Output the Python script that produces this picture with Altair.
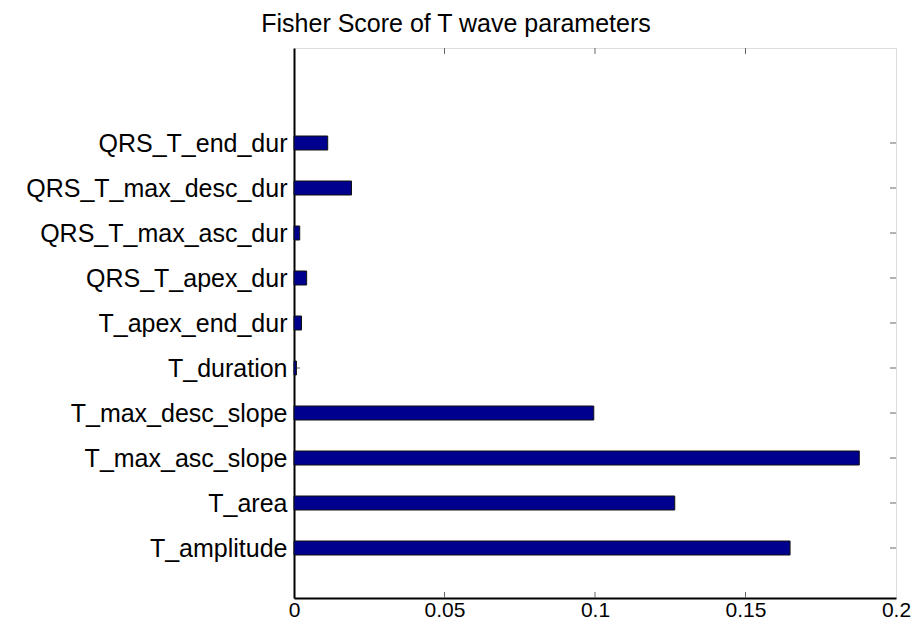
import altair as alt
import pandas as pd

features = ["T_amplitude", "T_area", "T_max_asc_slope", "T_max_desc_slope", "T_duration",
            "T_apex_end_dur", "QRS_T_apex_dur", "QRS_T_max_asc_dur", "QRS_T_max_desc_dur",
            "QRS_T_end_dur"]
scores = [0.1648, 0.1265, 0.1878, 0.0996, 0.0008, 0.0025, 0.0042, 0.0019, 0.0191, 0.0112]
x_ticks = [0, 0.05, 0.1, 0.15, 0.2]
TITLE = "Fisher Score of T wave parameters"

positions = list(range(1, len(features) + 1))
df = pd.DataFrame({"feature": features, "score": scores, "pos": positions})
inner_x = pd.DataFrame({"v": x_ticks[1:-1]})
pos_df = pd.DataFrame({"pos": positions})

W, H = 602, 550
FONT = "Liberation Sans"
label_expr = "[" + ",".join("'" + f + "'" for f in [""] + features) + "][datum.value]"

xscale = alt.Scale(domain=[0, 0.2], nice=False, zero=True)
yscale = alt.Scale(domain=[0, 12], nice=False, zero=True)

bars = alt.Chart(df).mark_bar(
    orient="horizontal", size=14, color="#00008F", stroke="#111111", strokeWidth=1
).encode(
    x=alt.X("score:Q", scale=xscale, title=None,
            axis=alt.Axis(values=x_ticks, format="~g", grid=False, tickSize=0,
                          labelPadding=1, labelFontSize=21, labelFont=FONT,
                          labelColor="black", domainColor="black", domainWidth=2,
                          labelFlush=False, labelLimit=0)),
    y=alt.Y("pos:Q", scale=yscale, title=None,
            axis=alt.Axis(values=positions, labelExpr=label_expr, grid=False, tickSize=0,
                          labelPadding=7, labelFontSize=25, labelFont=FONT,
                          labelColor="black", domainColor="black", domainWidth=2,
                          labelFlush=False, labelLimit=0)),
)

tick_color = "#666666"
bottom_ticks = alt.Chart(inner_x).mark_rule(color=tick_color, strokeWidth=1).encode(
    x=alt.X("v:Q", scale=xscale), y=alt.value(H), y2=alt.value(H - 6))
top_ticks = alt.Chart(inner_x).mark_rule(color=tick_color, strokeWidth=1).encode(
    x=alt.X("v:Q", scale=xscale), y=alt.value(0), y2=alt.value(6))
right_ticks = alt.Chart(pos_df).mark_rule(color=tick_color, strokeWidth=1).encode(
    y=alt.Y("pos:Q", scale=yscale), x=alt.value(W - 6), x2=alt.value(W))
left_ticks = alt.Chart(pos_df).mark_rule(color=tick_color, strokeWidth=1).encode(
    y=alt.Y("pos:Q", scale=yscale), x=alt.value(0), x2=alt.value(6))

title = alt.Chart(pd.DataFrame({"t": [TITLE]})).mark_text(
    fontSize=25, font=FONT, color="black", align="center", baseline="alphabetic"
).encode(text="t:N", x=alt.value(162), y=alt.value(-16))

chart = alt.layer(left_ticks, bottom_ticks, top_ticks, right_ticks, bars, title).properties(
    width=W, height=H,
    autosize=alt.AutoSizeParams(type="none"),
    padding={"left": 286, "top": 40, "right": 17, "bottom": 23},
).configure_view(stroke="black", strokeWidth=1).configure(background="white")

chart.save("out.html", embed_options={"renderer": "svg", "actions": False})
